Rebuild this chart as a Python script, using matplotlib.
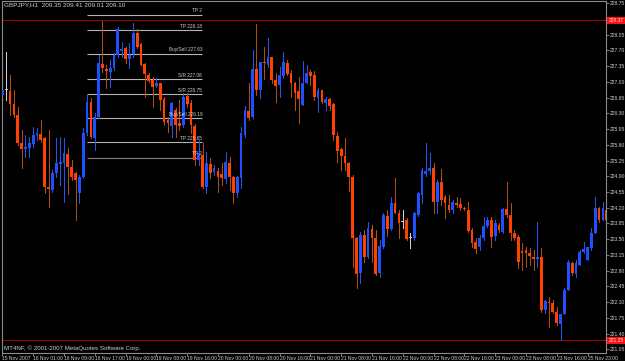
import matplotlib
matplotlib.use("Agg")
import matplotlib.pyplot as plt
from matplotlib import font_manager as fm

# ---------------- data (GBPJPY, H1) ----------------
symbol_header = "GBPJPY,H1  209.35 209.41 209.01 209.10"
copyright_text = "MT4NF, \u00a9 2001-2007 MetaQuotes Software Corp."

opens = [
    226.71, 226.82, 226.80, 226.51, 226.26, 225.64, 225.51, 225.53, 225.62, 225.82,
    225.84, 225.75, 224.66, 224.60, 224.97, 225.17, 225.20, 225.40, 225.11, 224.97,
    224.53, 224.88, 225.86, 226.55, 225.75, 226.22, 227.40, 227.29, 227.22, 227.31,
    227.60, 227.69, 227.76, 227.51, 227.62, 228.09, 227.84, 227.40, 227.15, 227.04,
    226.91, 226.98, 226.62, 226.15, 226.02, 226.38, 226.09, 226.04, 226.69, 226.53,
    226.02, 225.26, 225.37, 224.66, 225.17, 225.00, 225.02, 224.95, 224.84, 225.20,
    224.88, 224.53, 224.86, 225.82, 226.35, 226.22, 227.29, 226.82, 227.43, 227.38,
    227.55, 227.04, 226.93, 227.13, 227.42, 227.20, 226.98, 226.80, 226.49, 226.98,
    227.22, 227.15, 226.64, 226.82, 226.53, 226.62, 226.51, 225.80, 225.51, 225.35,
    225.20, 224.88, 223.53, 222.75, 223.59, 223.11, 223.73, 223.53, 222.75, 223.33,
    224.02, 223.73, 224.31, 224.08, 223.88, 223.93, 223.53, 223.53, 224.04, 224.48,
    224.95, 225.02, 225.09, 224.33, 224.77, 224.44, 224.26, 224.15, 224.31, 224.28,
    224.20, 224.15, 223.71, 223.44, 223.33, 223.53, 223.79, 223.93, 223.57, 223.82,
    223.66, 224.17, 224.04, 223.64, 223.55, 223.24, 223.26, 223.19, 223.11, 223.06,
    223.11, 221.93, 222.10, 222.08, 221.88, 221.61, 221.84, 222.37, 222.97, 222.73,
    222.93, 223.22, 223.04, 223.31, 223.64, 224.20, 223.93, 224.15]

highs = [
    226.87, 227.67, 227.15, 226.82, 226.44, 225.93, 225.82, 225.77, 226.00, 225.98,
    226.15, 225.77, 225.93, 225.04, 225.75, 225.77, 225.75, 225.53, 225.26, 225.00,
    224.93, 225.98, 226.71, 226.64, 226.31, 227.60, 228.36, 227.38, 227.49, 227.64,
    228.22, 227.89, 227.78, 227.87, 228.31, 228.18, 227.87, 227.42, 227.20, 227.11,
    227.09, 226.98, 226.66, 226.22, 226.55, 226.42, 226.60, 226.75, 226.75, 226.60,
    226.06, 225.71, 225.64, 225.44, 225.31, 225.15, 225.09, 225.20, 225.44, 225.33,
    224.91, 224.91, 226.00, 226.46, 226.98, 227.71, 228.29, 227.44, 227.78, 227.98,
    227.55, 227.20, 227.33, 227.67, 227.49, 227.27, 227.00, 227.11, 227.47, 227.38,
    227.27, 227.24, 226.87, 226.82, 226.66, 226.64, 226.53, 225.89, 225.53, 225.75,
    225.22, 224.93, 223.55, 223.66, 223.71, 223.88, 223.82, 223.71, 223.48, 224.08,
    224.15, 224.44, 224.86, 224.15, 224.15, 223.97, 223.64, 224.11, 224.55, 225.09,
    225.64, 225.42, 225.20, 224.82, 225.06, 224.48, 224.48, 224.37, 224.44, 224.42,
    224.22, 224.33, 223.75, 223.53, 223.59, 223.99, 223.99, 223.99, 223.93, 223.86,
    224.20, 224.77, 224.31, 223.71, 223.59, 223.42, 223.33, 223.31, 223.26, 223.88,
    223.31, 222.15, 222.21, 222.15, 221.99, 221.84, 222.42, 223.04, 222.99, 223.04,
    223.26, 223.44, 223.33, 223.75, 224.44, 224.22, 224.33, 224.33]

lows = [
    226.66, 226.60, 226.26, 226.22, 225.60, 225.09, 225.33, 225.33, 225.55, 225.71,
    225.66, 224.53, 224.22, 224.55, 224.88, 224.71, 224.33, 224.51, 224.82, 223.93,
    224.31, 224.86, 225.82, 225.75, 225.49, 226.20, 227.22, 226.87, 226.89, 227.27,
    227.55, 227.55, 227.42, 227.31, 227.55, 227.76, 227.38, 226.66, 227.00, 226.44,
    226.89, 226.38, 226.04, 225.89, 225.77, 225.77, 225.93, 226.00, 226.44, 225.86,
    225.15, 225.15, 224.64, 224.53, 224.86, 224.93, 224.55, 224.71, 224.75, 224.60,
    224.31, 224.44, 224.64, 225.77, 226.15, 226.20, 226.71, 226.64, 227.07, 227.33,
    226.98, 226.55, 226.66, 227.09, 227.15, 226.66, 226.38, 226.09, 226.49, 226.98,
    226.93, 226.60, 226.33, 226.53, 226.38, 226.38, 225.71, 225.22, 225.04, 225.04,
    224.57, 222.88, 222.42, 222.53, 222.99, 223.08, 222.99, 222.70, 222.66, 223.31,
    223.57, 223.71, 224.08, 223.53, 223.75, 223.48, 223.31, 223.48, 224.02, 224.31,
    224.91, 224.95, 224.08, 224.08, 224.26, 223.97, 224.11, 224.08, 224.22, 224.15,
    224.15, 223.66, 223.33, 223.19, 223.26, 223.48, 223.77, 223.33, 223.48, 223.66,
    223.64, 223.99, 223.48, 223.48, 222.86, 222.82, 222.88, 222.93, 222.82, 222.88,
    221.88, 221.86, 221.55, 221.86, 221.59, 221.26, 221.84, 222.37, 222.70, 222.66,
    222.93, 223.19, 223.04, 223.26, 223.64, 223.88, 223.93, 223.88]

closes = [
    226.82, 226.82, 226.51, 226.26, 225.64, 225.51, 225.55, 225.64, 225.82, 225.86,
    225.71, 224.66, 224.62, 224.97, 225.20, 225.22, 225.42, 225.11, 224.88, 224.82,
    224.88, 225.86, 226.55, 225.77, 226.22, 227.42, 227.31, 227.24, 227.31, 227.60,
    228.18, 227.73, 227.51, 227.60, 228.09, 227.78, 227.38, 227.18, 227.02, 226.89,
    226.98, 226.60, 226.11, 226.09, 226.53, 226.04, 226.02, 226.66, 226.51, 226.04,
    225.26, 225.42, 224.66, 225.20, 224.97, 225.09, 224.88, 224.86, 225.22, 224.88,
    224.53, 224.88, 225.86, 226.38, 226.20, 227.29, 226.82, 227.44, 227.41, 227.55,
    227.04, 226.91, 227.15, 227.44, 227.18, 226.98, 226.75, 226.62, 226.98, 227.20,
    227.13, 226.66, 226.82, 226.55, 226.62, 226.46, 225.82, 225.46, 225.35, 225.20,
    224.88, 223.53, 222.73, 223.59, 223.11, 223.75, 223.53, 222.73, 223.35, 224.04,
    223.73, 224.31, 224.08, 223.86, 223.88, 223.51, 223.53, 224.08, 224.53, 225.04,
    225.02, 225.09, 224.33, 224.77, 224.37, 224.31, 224.15, 224.33, 224.26, 224.20,
    224.17, 223.68, 223.42, 223.28, 223.53, 223.79, 223.93, 223.55, 223.86, 223.71,
    224.17, 224.04, 223.64, 223.53, 222.99, 223.19, 223.19, 223.13, 223.06, 223.11,
    221.93, 222.13, 222.08, 221.88, 221.64, 221.84, 222.37, 222.99, 222.75, 222.97,
    223.22, 223.28, 223.33, 223.64, 224.20, 223.93, 224.20, 223.93]

time_labels = ["15 Nov 2007", "16 Nov 01:00", "16 Nov 09:00", "16 Nov 17:00",
               "19 Nov 00:00", "19 Nov 08:00", "19 Nov 16:00", "20 Nov 00:00",
               "20 Nov 08:00", "20 Nov 16:00", "21 Nov 00:00", "21 Nov 08:00",
               "21 Nov 16:00", "22 Nov 00:00", "22 Nov 08:00", "22 Nov 16:00",
               "23 Nov 00:00", "23 Nov 08:00", "23 Nov 16:00", "25 Nov 23:00"]
time_label_bars = [0, 8, 16, 24, 32, 40, 48, 56, 64, 72, 80, 88, 96, 104, 112,
                   120, 128, 136, 144, 152]

price_ticks = [228.75, 228.05, 227.70, 227.35, 227.00, 226.65, 226.30, 225.95,
               225.60, 225.25, 224.90, 224.55, 224.20, 223.85, 223.50, 223.15,
               222.80, 222.45, 222.10, 221.75, 221.40, 221.05]

level_prices = [228.49, 228.15, 227.62, 227.06, 226.72, 226.19, 225.66, 225.31]
level_labels = ["TP 2", "TP 228.18", "Buy/Sell 227.63", "S/R 227.08",
                "S/R 226.75", "Buy/Sell 226.19", "TP 225.65", "TP 2"]
level_bar_start, level_bar_end = 22, 52

hline_prices = [228.37, 221.25]

# ---------------- style ----------------
avail = {f.name for f in fm.fontManager.ttflist}
fam = [f for f in ["Liberation Sans Narrow", "Liberation Sans", "DejaVu Sans"] if f in avail]
plt.rcParams['font.family'] = fam

BG = "#000000"
BULL = "#1e50ff"
BEAR = "#ff4000"
BULL_WICK = "#2056f0"
BEAR_WICK = "#b05010"
DOJI = "#d0d0d0"
FRAME = "#8c8c8c"
TXT = "#d0d0d0"
FS_HEAD = 4.6
FS_TICK = 3.6
FS_LEVEL = 3.4
FS_COPY = 4.4

W, H = 625, 361
fig = plt.figure(figsize=(W / 100, H / 100), dpi=100, facecolor=BG)
ax = fig.add_axes([2 / W, (H - 352.5) / H, 604 / W, 351.5 / H], facecolor=BG)

n = len(closes)
xs = list(range(n))
body_w = 0.72
min_h = 0.022

for i in xs:
    o, h, l, c = opens[i], highs[i], lows[i], closes[i]
    if c > o:
        bc, wc = BULL, BULL_WICK
    elif c < o:
        bc, wc = BEAR, BEAR_WICK
    else:
        bc, wc = DOJI, DOJI
    ax.vlines(i, l, h, colors=wc, linewidth=0.7, zorder=2, antialiased=False)
    ax.bar(i, max(abs(c - o), min_h), bottom=min(o, c), width=body_w,
           color=bc, linewidth=0, zorder=3, antialiased=False)

# horizontal price lines (red)
for p in hline_prices:
    ax.axhline(p, color="#a00000", linewidth=0.8, zorder=1)

# level lines object
for k, (p, lab) in enumerate(zip(level_prices, level_labels)):
    col = "#8a8070" if k == len(level_prices) - 1 else "#b4b4b4"
    ax.hlines(p, level_bar_start - 0.1, level_bar_end - 0.05, colors=col,
              linewidth=0.8, zorder=1)
    ax.text(level_bar_end - 0.1, p + 0.035, lab, color=TXT, fontsize=FS_LEVEL,
            ha="right", va="bottom", zorder=4)

ax.set_xlim(-0.1, 156.8)
ax.set_ylim(220.98, 228.80)

# axes / ticks
for s in ax.spines.values():
    s.set_color(FRAME)
    s.set_linewidth(0.8)

ax.yaxis.tick_right()
ax.set_yticks(price_ticks)
ax.set_yticklabels([f"{v:.2f}" for v in price_ticks])
ax.tick_params(axis="y", direction="out", length=2, width=0.6, colors=FRAME,
               labelcolor=TXT, labelsize=FS_TICK, pad=1)

ax.set_xticks(time_label_bars)
ax.set_xticklabels(time_labels, ha="left")
ax.tick_params(axis="x", direction="out", length=2, width=0.6, colors=FRAME,
               labelcolor=TXT, labelsize=FS_TICK, pad=0.5)

# price labels for red lines
for p in hline_prices:
    ax.text(1.004, p, f"{p:.2f}", transform=ax.get_yaxis_transform(),
            color="#ffd8d8", fontsize=FS_TICK, ha="left", va="center", zorder=5,
            bbox=dict(boxstyle="square,pad=0.2", fc="#ff1010", ec="none"),
            clip_on=False)

ax.text(0.003, 0.997, symbol_header, transform=ax.transAxes, color=TXT,
        fontsize=FS_HEAD, ha="left", va="top")
ax.text(0.003, 0.004, copyright_text, transform=ax.transAxes, color=TXT,
        fontsize=FS_COPY, ha="left", va="bottom")

fig.savefig("out.png", dpi=100, facecolor=BG)
